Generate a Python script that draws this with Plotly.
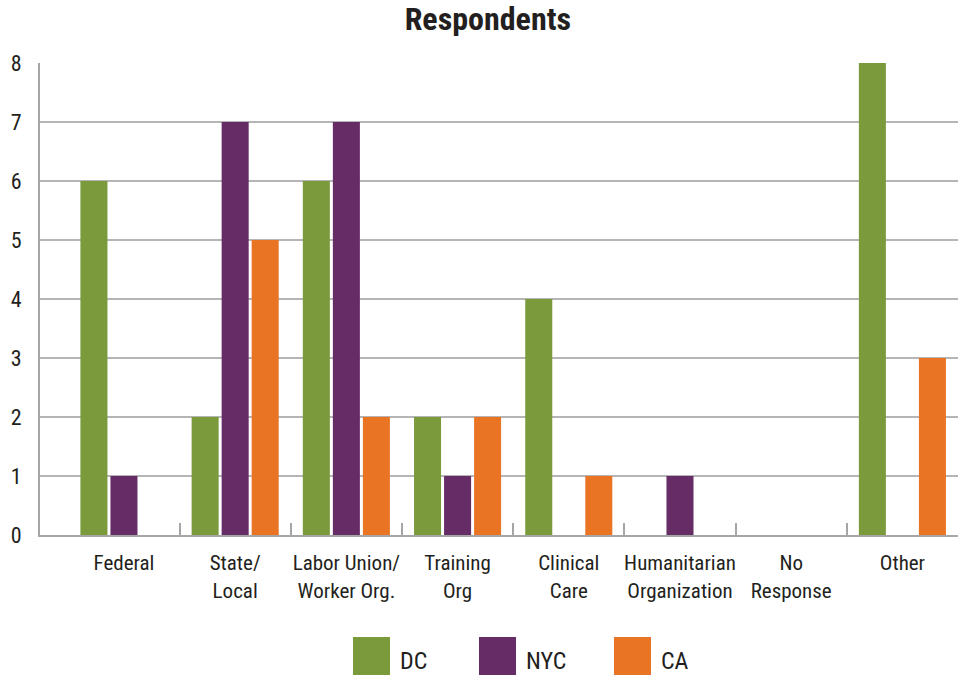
import plotly.graph_objects as go

categories = ["Federal", "State/<br>Local", "Labor Union/<br>Worker Org.", "Training<br>Org",
              "Clinical<br>Care", "Humanitarian<br>Organization", "No<br>Response", "Other"]
series_names = ["DC", "NYC", "CA"]
dc_values = [6, 2, 6, 2, 4, 0, 0, 8]
nyc_values = [1, 7, 7, 1, 0, 1, 0, 0]
ca_values = [0, 5, 2, 2, 1, 0, 0, 3]
series_colors = ["#7a9a3c", "#652c66", "#e87424"]
y_ticks = [0, 1, 2, 3, 4, 5, 6, 7, 8]

FONT = "Roboto Condensed, Liberation Sans Narrow, sans-serif"
TXT = "#231f20"

positions = list(range(len(categories)))
fig = go.Figure()
for name, vals, col in zip(series_names, [dc_values, nyc_values, ca_values], series_colors):
    fig.add_trace(go.Bar(x=positions, y=vals, name=name, marker=dict(color=col, line=dict(width=0)),
                         showlegend=False))

# Legend built from keys + labels placed under the plot
legend_x = [353, 479, 614]
for name, col, lx in zip(series_names, series_colors, legend_x):
    fig.add_shape(type="rect", xref="paper", yref="paper",
                  x0=(lx - 40) / 918, x1=(lx + 37 - 40) / 918,
                  y0=-(637 - 535) / 472, y1=-(675 - 535) / 472,
                  fillcolor=col, line=dict(width=0))
    fig.add_annotation(text=name, xref="paper", yref="paper",
                       x=(lx + 45 - 40) / 918, y=-(661 - 535) / 472,
                       xanchor="left", yanchor="middle", showarrow=False,
                       font=dict(family=FONT, size=24, color=TXT))

fig.update_layout(
    width=966, height=676,
    margin=dict(l=40, r=8, t=63, b=141),
    paper_bgcolor="white", plot_bgcolor="white",
    barmode="group", bargap=0.19, bargroupgap=0.1,
    title=dict(text="<b>Respondents</b>", x=0.505, xanchor="center", y=1 - 19 / 676,
               yanchor="middle", yref="container",
               font=dict(family=FONT, size=32, color=TXT)),
    font=dict(family=FONT, color=TXT),
    showlegend=False,
)
fig.update_xaxes(
    range=[-0.755, 7.5], tickmode="array", tickvals=positions, ticktext=categories,
    ticks="", showgrid=False, zeroline=False,
    showline=True, linecolor="#a6a6a6", linewidth=2,
    tickfont=dict(family=FONT, size=21, color=TXT), ticklabelstandoff=8,
    minor=dict(tickmode="array", tickvals=[p + 0.5 for p in positions[:-1]],
               ticks="inside", ticklen=12, tickwidth=2, tickcolor="#a6a6a6", showgrid=False),
)
fig.update_yaxes(
    range=[0, 8], tickmode="array", tickvals=y_ticks, ticks="",
    showgrid=True, gridcolor="#b5b5b5", gridwidth=1.5, zeroline=False,
    showline=True, linecolor="#a6a6a6", linewidth=2,
    tickfont=dict(family=FONT, size=22, color=TXT), ticklabelstandoff=12,
)

fig.write_html("out.html")
